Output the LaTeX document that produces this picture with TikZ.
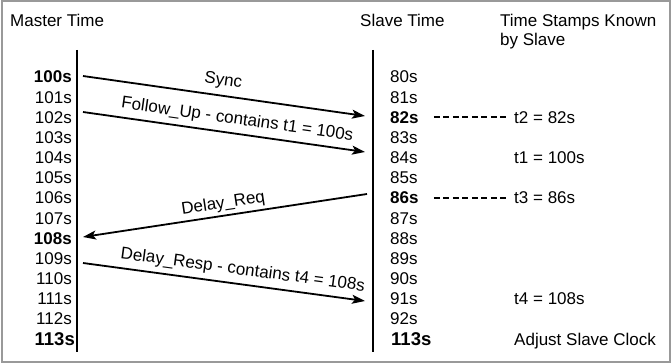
\documentclass[tikz,border=0pt]{standalone}
\usepackage{fontspec}
\setmainfont{Liberation Sans}
\usetikzlibrary{arrows.meta}
\begin{document}
\begin{tikzpicture}[x=1pt,y=-1pt,
  lbl/.style={font=\fontsize{17}{20}\selectfont, inner sep=0pt},
  ml/.style={lbl, anchor=base east},
  sl/.style={lbl, anchor=base west},
  bl/.style={font=\fontsize{17}{20}\selectfont\bfseries},
  big/.style={font=\fontsize{18.5}{20}\selectfont\bfseries},
  tl/.style={line width=2.2pt},
  msg/.style={line width=1.8pt, -{Stealth[length=13pt,width=9pt,inset=3pt]}},
  dsh/.style={line width=2pt, dash pattern=on 6pt off 3.5pt},
  arlbl/.style={font=\fontsize{17}{20}\selectfont, sloped, above, inner sep=0pt}
]
\useasboundingbox (0,0) rectangle (671,363);
\draw[black!40, line width=2pt] (1.5,1.5) rectangle (669.5,361.5);

% headers
\node[sl] (mt) at (10,27) {Master Time};
\node[sl] (st) at (360,27) {Slave Time};
\node[sl] (ts1) at (500,27) {Time Stamps Known};
\node[sl] (ts2) at (500,46) {by Slave};

% timelines
\coordinate (mtop) at (77,50); \coordinate (mbot) at (77,352);
\coordinate (stop) at (373,50); \coordinate (sbot) at (373,352);
\draw[tl] (mtop) -- (mbot);
\draw[tl] (stop) -- (sbot);

% master times
\node[ml,bl] (m0) at (72,83) {100s};
\node[ml] (m1) at (72,103.2) {101s};
\node[ml] (m2) at (72,123.3) {102s};
\node[ml] (m3) at (72,143.5) {103s};
\node[ml] (m4) at (72,163.6) {104s};
\node[ml] (m5) at (72,183.8) {105s};
\node[ml] (m6) at (72,203.9) {106s};
\node[ml] (m7) at (72,224.1) {107s};
\node[ml,bl] (m8) at (72,244.2) {108s};
\node[ml] (m9) at (72,264.4) {109s};
\node[ml] (m10) at (72,284.5) {110s};
\node[ml] (m11) at (72,304.7) {111s};
\node[ml] (m12) at (72,324.8) {112s};
\node[ml,big] (m13) at (75,345) {113s};

% slave times
\node[sl] (s0) at (390,83) {80s};
\node[sl] (s1) at (390,103.2) {81s};
\node[sl,bl] (s2) at (390,123.3) {82s};
\node[sl] (s3) at (390,143.5) {83s};
\node[sl] (s4) at (390,163.6) {84s};
\node[sl] (s5) at (390,183.8) {85s};
\node[sl,bl] (s6) at (390,203.9) {86s};
\node[sl] (s7) at (390,224.1) {87s};
\node[sl] (s8) at (390,244.2) {88s};
\node[sl] (s9) at (390,264.4) {89s};
\node[sl] (s10) at (390,284.5) {90s};
\node[sl] (s11) at (390,304.7) {91s};
\node[sl] (s12) at (390,324.8) {92s};
\node[sl,big] (s13) at (391,345) {113s};

% known time stamps
\node[sl] (t2) at (514,123.3) {t2 = 82s};
\node[sl] (t1) at (514,163.6) {t1 = 100s};
\node[sl] (t3) at (514,203.9) {t3 = 86s};
\node[sl] (t4) at (514,304.7) {t4 = 108s};
\node[sl] (adj) at (514,345) {Adjust Slave Clock};

\draw[dsh] ([xshift=15pt]s2.east |- t2.west) -- ([xshift=-7pt]t2.west);
\draw[dsh] ([xshift=15pt]s6.east |- t3.west) -- ([xshift=-7pt]t3.west);

% messages
\coordinate (a1) at (83,76);  \coordinate (b1) at (365,116);
\coordinate (a2) at (83,112); \coordinate (b2) at (365,152);
\coordinate (a3) at (367,194); \coordinate (b3) at (83,237);
\coordinate (a4) at (83,263); \coordinate (b4) at (365,301);
\draw[msg] (a1) -- node[arlbl, pos=0.49, yshift=6pt] (l1) {Sync} (b1);
\draw[msg] (a2) -- node[arlbl, pos=0.54, yshift=5pt] (l2) {Follow\_Up - contains t1 = 100s} (b2);
\draw[msg] (a3) -- node[arlbl, pos=0.5, yshift=3pt] (l3) {Delay\_Req} (b3);
\draw[msg] (a4) -- node[arlbl, pos=0.56, yshift=5pt] (l4) {Delay\_Resp - contains t4 = 108s} (b4);
\end{tikzpicture}
\end{document}
